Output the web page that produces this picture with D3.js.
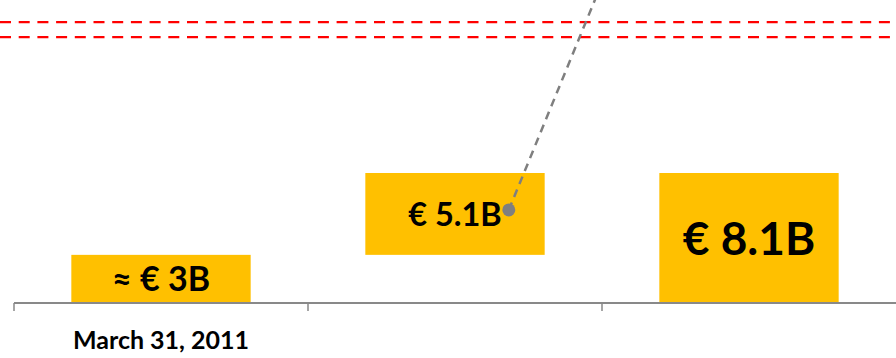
<!DOCTYPE html>
<html><head><meta charset="utf-8">
<script src="https://cdn.jsdelivr.net/npm/d3@7"></script>
<style>html,body{margin:0;padding:0;background:#fff;}svg{display:block;}</style>
</head><body>
<script>
// Data
const categories = ["March 31, 2011", "Increment", "Total"];
const tickLabels = ["March 31, 2011", "", ""];
const barStarts = [0, 3, 0];
const barValues = [3, 5.1, 8.1];
const barLabels = ["\u2248 \u20AC 3B", "\u20AC 5.1B", "\u20AC 8.1B"];
const refLines = [17.5, 16.57];
// leader annotation: anchor value on the increment bar, and a far point
const leaderCategory = ["Increment"];
const leaderFrac = [0.8];        // position within band
const leaderValue = [5.8];
const leaderEndValue = [19.5];

const W = 896, H = 358;
const svg = d3.select("body").append("svg").attr("width", W).attr("height", H);

const x = d3.scaleBand().domain(categories).range([14, 896]).paddingInner(0.39).paddingOuter(0.195);
const y = d3.scaleLinear().domain([0, 18.88]).range([303, 0]);
const xAxisScale = d3.scaleBand().domain(categories).range([14, 896]);

// red dashed reference lines
svg.selectAll("line.ref").data(refLines).enter().append("line")
  .attr("x1", 0).attr("x2", W)
  .attr("y1", d => y(d)).attr("y2", d => y(d))
  .attr("stroke", "#ff0000").attr("stroke-width", 2.2).attr("stroke-dasharray", "11,7.7");

// bars
const bars = categories.map((c, i) => ({c, s: barStarts[i], v: barValues[i], label: barLabels[i], tick: tickLabels[i]}));
svg.selectAll("rect.bar").data(bars).enter().append("rect")
  .attr("x", d => x(d.c)).attr("width", x.bandwidth())
  .attr("y", d => y(d.s + d.v)).attr("height", d => y(d.s) - y(d.s + d.v))
  .attr("fill", "#ffc000");

// axis
const axisG = svg.append("g").attr("transform", "translate(0,303)");
axisG.append("line").attr("x1", 14).attr("x2", 896).attr("y1", 0).attr("y2", 0)
  .attr("stroke", "#898989").attr("stroke-width", 2);
axisG.selectAll("line.tick").data(categories).enter().append("line")
  .attr("x1", d => xAxisScale(d)).attr("x2", d => xAxisScale(d))
  .attr("y1", 0).attr("y2", 8).attr("stroke", "#898989").attr("stroke-width", 1.5);
axisG.selectAll("text.tl").data(bars).enter().append("text")
  .attr("x", d => xAxisScale(d.c) + xAxisScale.bandwidth()/2)
  .attr("y", 46)
  .attr("text-anchor", "middle")
  .attr("font-family", "Lato, 'Open Sans', sans-serif").attr("font-weight", 700)
  .attr("font-size", 25).attr("fill", "#000")
  .text(d => d.tick);

// bar labels
const labelSizes = [34, 32.5, 46];
svg.selectAll("text.bl").data(bars).enter().append("text")
  .attr("x", d => x(d.c) + x.bandwidth()/2)
  .attr("y", (d, i) => (y(d.s) + y(d.s + d.v))/2 + labelSizes[i]*0.36)
  .attr("text-anchor", "middle")
  .attr("font-family", "Lato, 'Open Sans', sans-serif").attr("font-weight", 700)
  .attr("font-size", (d, i) => labelSizes[i]).attr("fill", "#000")
  .text(d => d.label);

// leader line
const lx = x(leaderCategory[0]) + x.bandwidth()*leaderFrac[0];
const ly = y(leaderValue[0]);
const ex = lx + (ly - y(leaderEndValue[0])) * 0.41;
svg.append("line").attr("x1", lx).attr("y1", ly).attr("x2", ex).attr("y2", y(leaderEndValue[0]))
  .attr("stroke", "#7f7f7f").attr("stroke-width", 2.5).attr("stroke-dasharray", "8,6");
svg.append("circle").attr("cx", lx).attr("cy", ly).attr("r", 6.5).attr("fill", "#7f7f7f");
</script>
</body></html>
